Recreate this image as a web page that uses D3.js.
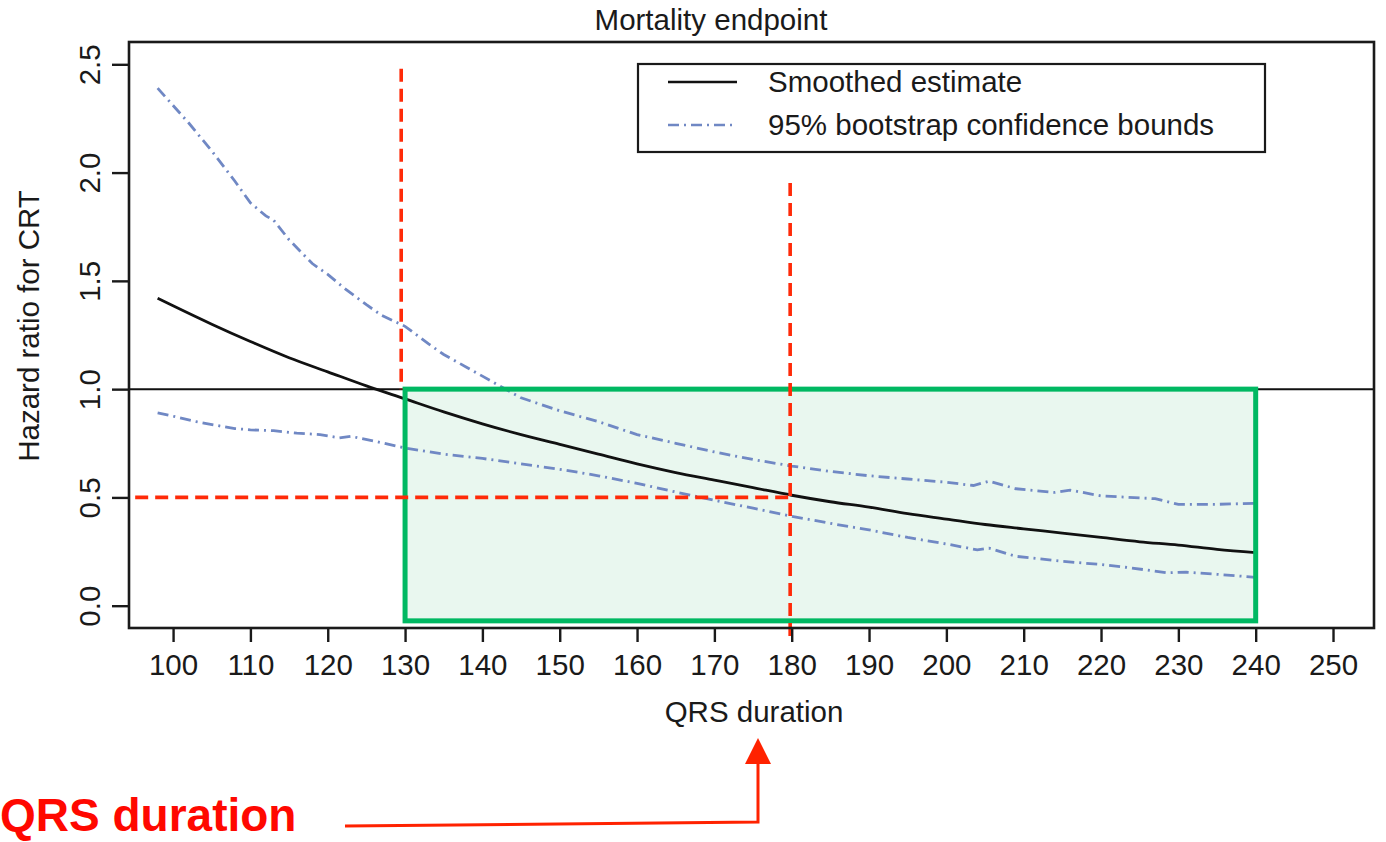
<!DOCTYPE html>
<html><head><meta charset="utf-8">
<script src="https://cdn.jsdelivr.net/npm/d3@7"></script>
<style>
body{margin:0;background:#fff}
text{font-family:"Liberation Sans",Arial,Helvetica,sans-serif}
</style>
</head><body>
<svg id="c" width="1386" height="842"></svg>
<script>
// ---------- data ----------
const chartTitle = "Mortality endpoint";
const xTitle = "QRS duration";
const yTitle = "Hazard ratio for CRT";
const xTickValues = [100,110,120,130,140,150,160,170,180,190,200,210,220,230,240,250];
const xTickLabels = ["100","110","120","130","140","150","160","170","180","190","200","210","220","230","240","250"];
const yTickValues = [0,0.5,1,1.5,2,2.5];
const yTickLabels = ["0.0","0.5","1.0","1.5","2.0","2.5"];
const legendLabels = ["Smoothed estimate","95% bootstrap confidence bounds"];

const estX = [98,100,105,110,115,120,125,130,135,140,145,150,155,160,165,170,175,180,185,190,195,200,205,210,215,220,225,230,235,240];
const estY = [1.42,1.385,1.30,1.22,1.145,1.08,1.015,0.955,0.895,0.84,0.79,0.745,0.70,0.655,0.615,0.58,0.545,0.51,0.48,0.455,0.425,0.40,0.375,0.355,0.335,0.315,0.295,0.28,0.26,0.245];

const upperX = [98,100,102,105,108,110,112,113,115,118,120,122,125,127,130,133,135,138,140,142,145,150,155,160,165,170,175,180,185,190,195,200,203.5,205.5,209,214,216,220,227,230,235,240];
const upperY = [2.39,2.31,2.23,2.10,1.96,1.86,1.80,1.78,1.69,1.58,1.53,1.47,1.39,1.34,1.29,1.21,1.16,1.10,1.06,1.02,0.96,0.90,0.85,0.79,0.75,0.71,0.675,0.645,0.62,0.60,0.585,0.57,0.555,0.575,0.54,0.523,0.534,0.507,0.494,0.468,0.468,0.473];

const lowerX = [98,100,103,106,108,110,113,116,119,121.5,123,126,130,135,140,145,150,155,160,165,170,175,180,185,190,195,200,204,205.5,209,215,220,224,228.5,231,235,240];
const lowerY = [0.89,0.875,0.85,0.83,0.818,0.812,0.808,0.797,0.79,0.775,0.782,0.76,0.728,0.70,0.68,0.655,0.63,0.60,0.565,0.525,0.487,0.45,0.413,0.38,0.35,0.315,0.285,0.258,0.266,0.228,0.205,0.19,0.174,0.152,0.155,0.145,0.131];

// reference / annotation values (data units)
const refLineY = 1.0;
const regionX = [130, 240];
const regionY = [-0.07, 1.0];
const cutLine1 = {x:129.5, y0:1.0, y1:2.48};
const cutLine2 = {x:179.8, y0:-0.168, y1:1.952};
const hrLine = {y:0.5, x0:95.1, x1:179.8};
const annotationText = "QRS duration";

// ---------- scales ----------
const svg = d3.select("#c");
const x = d3.scaleLinear().domain([94.3, 255.3]).range([129, 1374]);
const y = d3.scaleLinear().domain([-0.103, 2.603]).range([628, 42]);
const FS = 29.5;
const blue = "#7088c4";
const red = "#ff2a08";
const green = "#00b862";

// green region fill
svg.append("rect")
  .attr("x", x(regionX[0])).attr("y", y(regionY[1]))
  .attr("width", x(regionX[1]) - x(regionX[0]))
  .attr("height", y(regionY[0]) - y(regionY[1]))
  .attr("fill", "#e9f7ef");

// reference line at HR = 1
svg.append("line")
  .attr("x1", x.range()[0]).attr("x2", x.range()[1])
  .attr("y1", y(refLineY)).attr("y2", y(refLineY))
  .attr("stroke", "#111").attr("stroke-width", 2);

const line = d3.line().x(d => x(d[0])).y(d => y(d[1]));

// bounds
[[upperX, upperY], [lowerX, lowerY]].forEach(([xs, ys]) => {
  svg.append("path")
    .attr("d", line(xs.map((v, i) => [v, ys[i]])))
    .attr("fill", "none").attr("stroke", blue).attr("stroke-width", 2.8)
    .attr("stroke-dasharray", "11,5,2,5");
});

// smoothed estimate
svg.append("path")
  .attr("d", d3.line().x(d => x(d[0])).y(d => y(d[1])).curve(d3.curveMonotoneX)(estX.map((v, i) => [v, estY[i]])))
  .attr("fill", "none").attr("stroke", "#111").attr("stroke-width", 2.8);

// green region outline
svg.append("rect")
  .attr("x", x(regionX[0])).attr("y", y(regionY[1]))
  .attr("width", x(regionX[1]) - x(regionX[0]))
  .attr("height", y(regionY[0]) - y(regionY[1]))
  .attr("fill", "none").attr("stroke", green).attr("stroke-width", 5);

// red dashed guide lines
const dashW = 3.6, dashP = "13,7";
svg.append("line")
  .attr("x1", x(cutLine1.x)).attr("x2", x(cutLine1.x))
  .attr("y1", y(cutLine1.y1)).attr("y2", y(cutLine1.y0))
  .attr("stroke", red).attr("stroke-width", dashW).attr("stroke-dasharray", dashP);
svg.append("line")
  .attr("x1", x(cutLine2.x)).attr("x2", x(cutLine2.x))
  .attr("y1", y(cutLine2.y1)).attr("y2", y(cutLine2.y0))
  .attr("stroke", red).attr("stroke-width", dashW).attr("stroke-dasharray", dashP);
svg.append("line")
  .attr("x1", x(hrLine.x0)).attr("x2", x(hrLine.x1))
  .attr("y1", y(hrLine.y)).attr("y2", y(hrLine.y))
  .attr("stroke", red).attr("stroke-width", dashW).attr("stroke-dasharray", dashP);

// frame
svg.append("rect")
  .attr("x", x.range()[0]).attr("y", y.range()[1])
  .attr("width", x.range()[1] - x.range()[0])
  .attr("height", y.range()[0] - y.range()[1])
  .attr("fill", "none").attr("stroke", "#1a1a1a").attr("stroke-width", 2.6);

// x axis
const gx = svg.append("g").attr("transform", `translate(0,${y.range()[0]})`)
  .call(d3.axisBottom(x).tickValues(xTickValues).tickFormat((d, i) => xTickLabels[i]).tickSize(14));
gx.select(".domain").remove();
gx.selectAll("line").attr("stroke", "#1a1a1a").attr("stroke-width", 2.4);
gx.selectAll("text").attr("y", 47).attr("dy", 0).attr("fill", "#1a1a1a")
  .style("font-size", FS + "px").style("font-family", '"Liberation Sans",Arial,sans-serif');

// y axis
const gy = svg.append("g").attr("transform", `translate(${x.range()[0]},0)`)
  .call(d3.axisLeft(y).tickValues(yTickValues).tickFormat((d, i) => yTickLabels[i]).tickSize(17));
gy.select(".domain").remove();
gy.selectAll("line").attr("stroke", "#1a1a1a").attr("stroke-width", 2.4);
gy.selectAll("text").attr("x", 0).attr("dy", 0).attr("y", 0)
  .attr("text-anchor", "middle")
  .attr("transform", "translate(-29,0) rotate(-90)")
  .attr("fill", "#1a1a1a")
  .style("font-size", FS + "px").style("font-family", '"Liberation Sans",Arial,sans-serif');

// titles
svg.append("text").attr("x", 711).attr("y", 30).attr("text-anchor", "middle")
  .attr("fill", "#1a1a1a").style("font-size", FS + "px").text(chartTitle);
svg.append("text").attr("x", 754).attr("y", 722).attr("text-anchor", "middle")
  .attr("fill", "#1a1a1a").style("font-size", FS + "px").text(xTitle);
svg.append("text").attr("transform", "translate(39,326) rotate(-90)").attr("text-anchor", "middle")
  .attr("fill", "#1a1a1a").style("font-size", FS + "px").text(yTitle);

// legend
const lg = svg.append("g");
lg.append("rect").attr("x", 638).attr("y", 64).attr("width", 627).attr("height", 88)
  .attr("fill", "#fff").attr("stroke", "#1a1a1a").attr("stroke-width", 2.2);
const legStyles = [{stroke:"#111", dash:null}, {stroke:blue, dash:"11,5,2,5"}];
legendLabels.forEach((lab, i) => {
  const cy = 82 + i * 43;
  lg.append("line").attr("x1", 668).attr("x2", 737).attr("y1", cy).attr("y2", cy)
    .attr("stroke", legStyles[i].stroke).attr("stroke-width", 2.6)
    .attr("stroke-dasharray", legStyles[i].dash);
  lg.append("text").attr("x", 768).attr("y", cy + 10).attr("fill", "#1a1a1a")
    .style("font-size", FS + "px").text(lab);
});

// annotation: red label + arrow
svg.append("text").attr("x", 0).attr("y", 831)
  .attr("fill", "#ff0800").style("font-size", "46px").style("font-weight", "bold")
  .text(annotationText);
svg.append("path").attr("d", "M345,826 L758,822 L758,760")
  .attr("fill", "none").attr("stroke", "#ff2200").attr("stroke-width", 3);
svg.append("path").attr("d", "M758,738 L745,764 L771,764 Z").attr("fill", "#ff2200");
</script>
</body></html>
